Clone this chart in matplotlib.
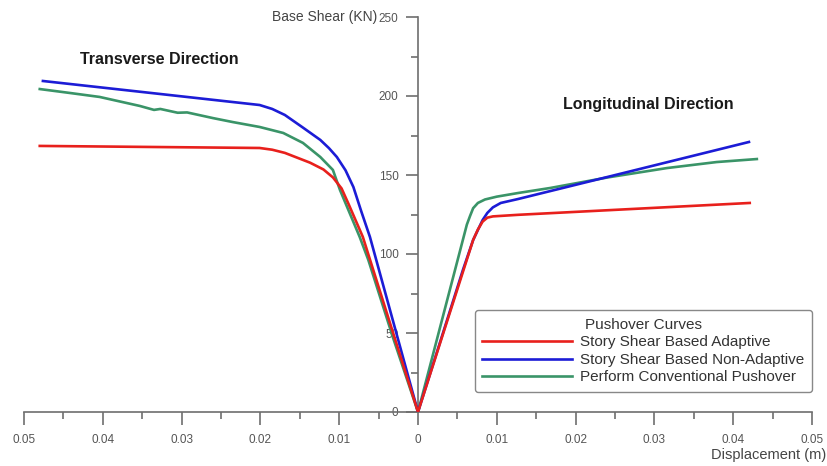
#!/usr/bin/env python3
"""Pushover curves - base shear vs displacement, both directions."""

import matplotlib
matplotlib.use("Agg")
import matplotlib.pyplot as plt
from matplotlib.ticker import FuncFormatter, MultipleLocator

# ── Data (transverse side plotted on negative x) ───────────────────────────────
adapt_x = [-0.0480, -0.0201, -0.0185, -0.0169, -0.0137, -0.0120, -0.0108, -0.0097,
           -0.0088, -0.0070, 0.0, 0.0070, 0.0076, 0.0082, 0.0088, 0.0095,
           0.0127, 0.0421]
adapt_y = [168.4, 167.1, 166.0, 164.0, 157.8, 153.5, 148.5, 141.5,
           131.5, 110.8, 0.0, 108.9, 115.5, 120.5, 123.0, 123.8,
           124.8, 132.3]

nonad_x = [-0.0476, -0.0201, -0.0185, -0.0169, -0.0146, -0.0124, -0.0113, -0.0103,
           -0.0092, -0.0082, -0.0072, -0.0061, 0.0, 0.0057, 0.0070, 0.0076,
           0.0082, 0.0088, 0.0095, 0.0105, 0.0127, 0.0240, 0.0420]
nonad_y = [209.5, 194.3, 191.8, 188.0, 180.0, 172.2, 167.0, 161.4,
           153.0, 142.4, 127.0, 110.8, 0.0, 89.9, 108.9, 115.2,
           121.5, 126.0, 129.5, 132.3, 134.8, 148.7, 170.9]

conv_x = [-0.0480, -0.0440, -0.0404, -0.0353, -0.0335, -0.0327, -0.0305, -0.0293,
          -0.0260, -0.0235, -0.0201, -0.0171, -0.0146, -0.0124, -0.0108, -0.0099,
          -0.0074, -0.0063, -0.0032, 0.0, 0.0047, 0.0062, 0.0066, 0.0070,
          0.0076, 0.0085, 0.0100, 0.0127, 0.0168, 0.0240, 0.0316, 0.0379, 0.0430]
conv_y = [204.4, 201.8, 199.4, 193.7, 191.2, 191.8, 189.4, 189.6,
          186.0, 183.5, 180.4, 176.6, 170.3, 161.4, 153.2, 140.5,
          110.8, 96.2, 47.5, 0.0, 89.9, 118.6, 124.0, 129.0,
          132.3, 134.5, 136.3, 138.6, 141.8, 148.4, 154.4, 158.2, 160.1]

labels = ["Story Shear Based Adaptive",
          "Story Shear Based Non-Adaptive",
          "Perform Conventional Pushover"]
colors = ["#e8201c", "#1c1cd6", "#3a9468"]

# ── Figure ─────────────────────────────────────────────────────────────────────
plt.rcParams["font.family"] = ["Liberation Sans", "DejaVu Sans"]
fig = plt.figure(figsize=(8.28, 4.66), dpi=100)
ax = fig.add_axes([24 / 828, 1 - 412 / 466, 788 / 828, 395 / 466])

ax.plot(conv_x, conv_y, color=colors[2], lw=1.9, label=labels[2], zorder=3,
        solid_joinstyle="round")
ax.plot(nonad_x, nonad_y, color=colors[1], lw=1.9, label=labels[1], zorder=4,
        solid_joinstyle="round")
ax.plot(adapt_x, adapt_y, color=colors[0], lw=1.9, label=labels[0], zorder=5,
        solid_joinstyle="round")

ax.set_xlim(-0.05, 0.05)
ax.set_ylim(0, 250)

grey = "#6e6e6e"
for s in ["top", "right"]:
    ax.spines[s].set_visible(False)
ax.spines["left"].set_position(("data", 0))
ax.spines["bottom"].set_position(("data", 0))
for s in ["left", "bottom"]:
    ax.spines[s].set_color(grey)
    ax.spines[s].set_linewidth(1.2)

ax.xaxis.set_major_locator(MultipleLocator(0.01))
ax.xaxis.set_minor_locator(MultipleLocator(0.005))
ax.yaxis.set_major_locator(MultipleLocator(50))
ax.yaxis.set_minor_locator(MultipleLocator(25))
ax.xaxis.set_major_formatter(FuncFormatter(lambda v, p: f"{abs(round(v, 3)):g}"))
ax.tick_params(which="major", length=9, width=1.2, color=grey,
               labelcolor="#555555", labelsize=8.5, pad=5)
ax.tick_params(which="minor", length=5, width=1.2, color=grey)
ax.tick_params(axis="x", which="major", pad=7)

# ── Texts ──────────────────────────────────────────────────────────────────────
fig.text(80 / 828, 1 - 60 / 466, "Transverse Direction", fontsize=11.5,
         fontweight="bold", va="center", ha="left", color="#1a1a1a")
fig.text(563 / 828, 1 - 104 / 466, "Longitudinal Direction", fontsize=11.5,
         fontweight="bold", va="center", ha="left", color="#1a1a1a")
fig.text(377 / 828, 1 - 17 / 466, "Base Shear (KN)", fontsize=10,
         ha="right", va="center", color="#444444")
fig.text(826 / 828, 1 - 455 / 466, "Displacement (m)", fontsize=10.5,
         ha="right", va="center", color="#444444")

# ── Legend ─────────────────────────────────────────────────────────────────────
h, l = ax.get_legend_handles_labels()
order = [2, 1, 0]
leg = ax.legend([h[i] for i in order], [l[i] for i in order],
                title="Pushover Curves", loc="lower right",
                bbox_to_anchor=(812 / 828, 1 - 392 / 466),
                bbox_transform=fig.transFigure, borderaxespad=0,
                fontsize=11, title_fontsize=11, handlelength=5.9,
                handletextpad=0.5, labelspacing=0.23, borderpad=0.5,
                fancybox=True, framealpha=1, edgecolor="#888888")
leg.get_frame().set_linewidth(1.0)
for t in leg.get_texts():
    t.set_color("#333333")
leg.get_title().set_color("#333333")

fig.savefig("out.png", dpi=100)
